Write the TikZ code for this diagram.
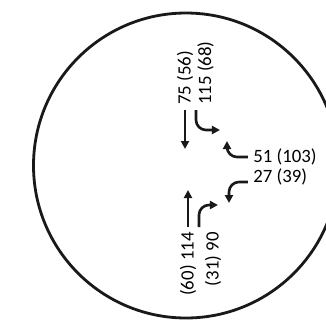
\documentclass[tikz,border=0pt]{standalone}
\usepackage{fontspec}
\setmainfont{Carlito}
\usetikzlibrary{arrows.meta, positioning, calc}

\begin{document}
\begin{tikzpicture}[
    x=0.5pt, y=-0.5pt,
    ring/.style={draw=black!90, line width=1.4pt},
    lbl/.style={font=\fontsize{9.4}{10}\selectfont, text=black,
                inner xsep=2.5pt, inner ysep=0.5pt},
    vlbl/.style={lbl, rotate=90},
    arrow/.style={-{Triangle[length=4pt, width=4pt]}, line width=1.3pt,
                  draw=black!90, rounded corners=5pt}
]
    \useasboundingbox (0,0) rectangle (326,329);
    \clip (0,0) rectangle (326,329);

    % Outline
    \draw[ring] (186,165.5) circle[radius=152.5];

    % Upper labels
    \node[vlbl, anchor=west] (l75) at (185,110) {75 (56)};
    \node[vlbl, anchor=north west] (l115) at (196,110) {115 (68)};

    % Right labels
    \node[lbl, anchor=west] (l51) at (248,157) {51 (103)};
    \node[lbl, anchor=base west] (l27) at (248,182) {27 (39)};

    % Lower labels
    \node[vlbl, anchor=east] (l114) at (188,227) {(60) 114};
    \node[vlbl, anchor=east] (l90) at (213,227) {(31) 90};

    % Arrow heads
    \coordinate (h75) at (185,149);
    \coordinate (h115) at (220,130);
    \coordinate (h51) at (227,141);
    \coordinate (h27) at (229,203);
    \coordinate (h114) at (188,190);
    \coordinate (h90) at (218,205);

    \draw[arrow] (l75.west) -- (h75);
    \draw[arrow] (l115.north west) |- (h115);
    \draw[arrow] (l51.west) -| (h51);
    \draw[arrow] (l27.base west) -| (h27);
    \draw[arrow] (l114.east) -- (h114);
    \draw[arrow] ($(l90.east)+(-14,0)$) |- (h90);
\end{tikzpicture}
\end{document}
